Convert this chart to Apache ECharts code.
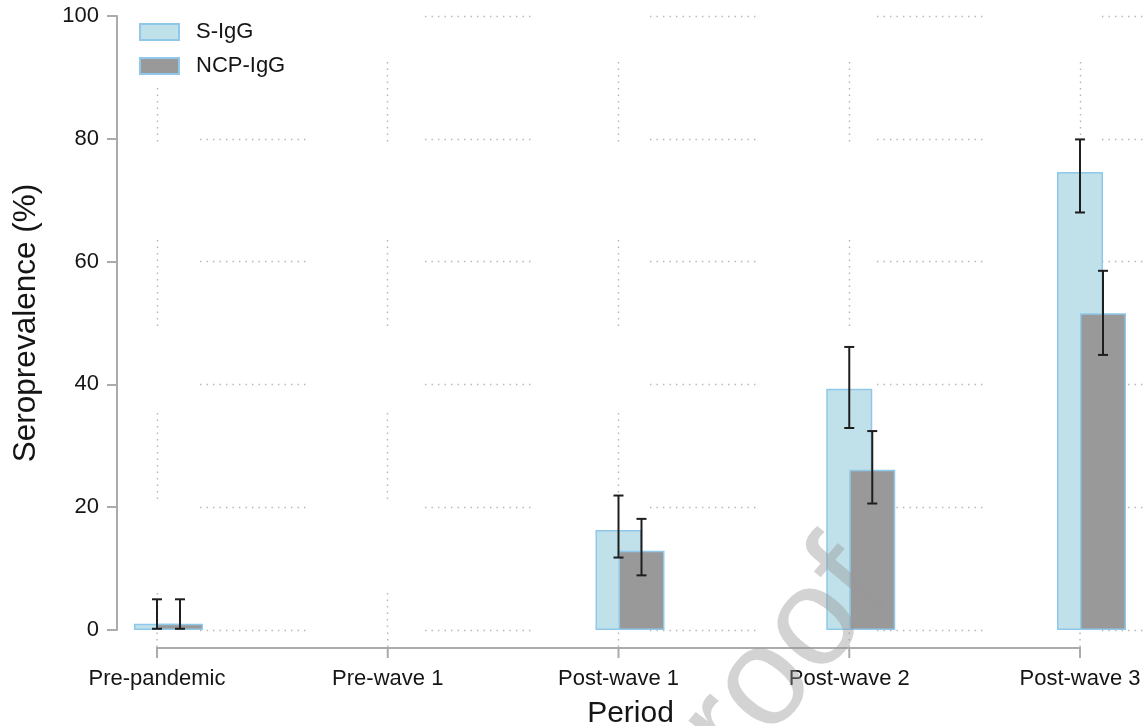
<!DOCTYPE html>
<html>
<head>
<meta charset="utf-8">
<title>Seroprevalence by period</title>
<script src="https://cdn.jsdelivr.net/npm/echarts@6/dist/echarts.min.js"></script>
<style>
  html, body { margin: 0; padding: 0; background: #fff; }
  #chart { width: 1147px; height: 726px; }
</style>
</head>
<body>
<div id="chart"></div>
<script>
// ---- data ----
const categories = ['Pre-pandemic', 'Pre-wave 1', 'Post-wave 1', 'Post-wave 2', 'Post-wave 3'];
const sIgG     = [1.0, null, 16.3, 39.3, 74.6];
const sLow     = [0.2, null, 11.8, 32.9, 68.0];
const sHigh    = [5.0, null, 21.9, 46.1, 79.9];
const ncpIgG   = [1.0, null, 12.9, 26.1, 51.6];
const ncpLow   = [0.2, null,  8.9, 20.6, 44.8];
const ncpHigh  = [5.0, null, 18.1, 32.4, 58.5];
const yTicks   = [0, 20, 40, 60, 80, 100];

// ---- style ----
const FONT = '"Liberation Sans", Arial, sans-serif';
const TEXT = '#151515';
const AXIS_GREY = '#ababab';
const DOT_GREY = '#b4b4b4';
const BAR_W = 46;
const X_AXIS_DROP = 18;   // x axis line sits this far below the zero line
const GRID = { left: 41.6, right: -48.4, top: 16, bottom: 96 };

// dotted dash pattern that only shows dots inside the given pixel ranges
function dottedDash(lineStart, ranges, dot, step) {
  const pts = [];
  ranges.forEach(function (r) {
    for (let p = r[0]; p <= r[1]; p += step) pts.push(p);
  });
  const dash = [0, pts[0] - lineStart];
  for (let i = 0; i < pts.length; i++) {
    const next = i + 1 < pts.length ? pts[i + 1] - pts[i] - dot : 5000;
    dash.push(dot, next);
  }
  return dash;
}

const hDash = dottedDash(GRID.left,
  [[200, 305], [425, 530], [650, 755], [877, 985], [1102, 1145]], 1.4, 6.5);
const vDash = dottedDash(GRID.top,
  [[62, 140], [240, 327], [413, 500], [593, 640]], 1.4, 6.5);

function errData(lo, hi) {
  const out = [];
  categories.forEach(function (c, i) {
    if (lo[i] != null && hi[i] != null) out.push([i, lo[i], hi[i]]);
  });
  return out;
}

// whiskers with caps, shifted sideways to the centre of their bar
function errorRenderer(shift) {
  return function (params, api) {
    const i = api.value(0);
    const pLo = api.coord([i, api.value(1)]);
    const pHi = api.coord([i, api.value(2)]);
    const x = pLo[0] + shift;
    const cap = 5;
    const st = { stroke: '#1e1e1e', lineWidth: 2 };
    return {
      type: 'group',
      children: [
        { type: 'line', shape: { x1: x, y1: pLo[1], x2: x, y2: pHi[1] }, style: st },
        { type: 'line', shape: { x1: x - cap, y1: pHi[1], x2: x + cap, y2: pHi[1] }, style: st },
        { type: 'line', shape: { x1: x - cap, y1: pLo[1], x2: x + cap, y2: pLo[1] }, style: st }
      ]
    };
  };
}

// detached x axis: a line from the first to the last category, with ticks,
// plus the short dotted continuation of each vertical grid line below zero
function xAxisRenderer(params, api) {
  const first = api.coord([0, 0]);
  const last = api.coord([categories.length - 1, 0]);
  const yAxisLine = first[1] + X_AXIS_DROP;
  const lineStyle = { stroke: AXIS_GREY, lineWidth: 2 };
  const children = [{
    type: 'line',
    shape: { x1: first[0] - 1, y1: yAxisLine, x2: last[0] + 1, y2: yAxisLine },
    style: lineStyle
  }];
  categories.forEach(function (c, i) {
    const p = api.coord([i, 0]);
    children.push({ type: 'line',
      shape: { x1: p[0], y1: yAxisLine, x2: p[0], y2: yAxisLine + 10 }, style: lineStyle });
    children.push({ type: 'line',
      shape: { x1: p[0], y1: p[1] + 2.5, x2: p[0], y2: yAxisLine - 1 },
      style: { stroke: DOT_GREY, lineWidth: 1.4, lineDash: [1.4, 5.1] } });
  });
  return { type: 'group', children: children };
}

const chart = echarts.init(document.getElementById('chart'), null, { renderer: 'canvas' });

const barStyle = function (fill) {
  return { color: fill, borderColor: '#8fc8ea', borderWidth: 1.5 };
};

chart.setOption({
  animation: false,
  backgroundColor: '#ffffff',
  textStyle: { fontFamily: FONT },
  grid: Object.assign({ containLabel: false, outerBoundsMode: 'none' }, GRID),
  legend: {
    data: ['S-IgG', 'NCP-IgG'],
    orient: 'vertical',
    left: 125,
    top: 6,
    padding: [15, 22, 9, 14],
    backgroundColor: '#ffffff',
    itemWidth: 39,
    itemHeight: 16,
    itemGap: 12,
    icon: 'rect',
    selectedMode: false,
    textStyle: { fontSize: 22, color: TEXT, fontFamily: FONT, lineHeight: 16, padding: [0, 0, 0, 12] },
    z: 5
  },
  xAxis: {
    type: 'category',
    data: categories,
    boundaryGap: true,
    offset: X_AXIS_DROP,
    axisLine: { show: false },
    axisTick: { show: false },
    axisLabel: { interval: 0, fontSize: 22, color: TEXT, margin: 20, hideOverlap: false },
    splitLine: { show: true, alignWithLabel: true, interval: 0,
      lineStyle: { color: DOT_GREY, width: 1.4, type: vDash, cap: 'butt' } },
    name: 'Period',
    nameLocation: 'middle',
    nameGap: 51,
    nameTextStyle: { fontSize: 30, color: TEXT, padding: [0, 0, 0, 24] }
  },
  yAxis: {
    type: 'value',
    min: 0,
    max: 100,
    interval: 20,
    offset: -75.4,
    axisLine: { show: true, lineStyle: { color: AXIS_GREY, width: 2 } },
    axisTick: { show: true, length: 10, lineStyle: { color: AXIS_GREY, width: 2 } },
    axisLabel: { fontSize: 22, color: TEXT, margin: 18,
      formatter: function (v) { return yTicks.indexOf(v) >= 0 ? String(v) : ''; } },
    splitLine: { show: true, lineStyle: { color: DOT_GREY, width: 1.4, type: hDash, cap: 'butt' } },
    name: 'Seroprevalence (%)',
    nameLocation: 'middle',
    nameGap: 75,
    nameTextStyle: { fontSize: 31.5, color: TEXT }
  },
  series: [
    // empty slot so the two visible bars sit at the centre and right of each category
    { name: '_slot', type: 'bar', data: categories.map(function () { return null; }),
      barWidth: BAR_W, barGap: '-50%', silent: true },
    { name: 'S-IgG', type: 'bar', data: sIgG.slice(), barWidth: BAR_W, barGap: '-50%',
      itemStyle: barStyle('#c0e0ea'), z: 2 },
    { name: 'NCP-IgG', type: 'bar', data: ncpIgG.slice(), barWidth: BAR_W, barGap: '-50%',
      itemStyle: barStyle('#999999'), z: 2 },
    { name: 'S-IgG CI', type: 'custom', data: errData(sLow, sHigh),
      renderItem: errorRenderer(0), encode: { x: 0, y: [1, 2] }, z: 4, silent: true },
    { name: 'NCP-IgG CI', type: 'custom', data: errData(ncpLow, ncpHigh),
      renderItem: errorRenderer(BAR_W / 2), encode: { x: 0, y: [1, 2] }, z: 4, silent: true },
    { name: 'x axis', type: 'custom', data: [[0, 0]], silent: true, z: 3,
      encode: { x: 0, y: 1 }, clip: false, renderItem: xAxisRenderer }
  ],
  graphic: [{
    type: 'text',
    x: 762,
    y: 688,
    rotation: 50 * Math.PI / 180,
    z: 6,
    silent: true,
    style: {
      text: 'proof',
      fontSize: 140,
      fontFamily: FONT,
      fill: 'rgba(150,150,150,0.42)',
      textAlign: 'center',
      textVerticalAlign: 'middle'
    }
  }]
});
</script>
</body>
</html>
